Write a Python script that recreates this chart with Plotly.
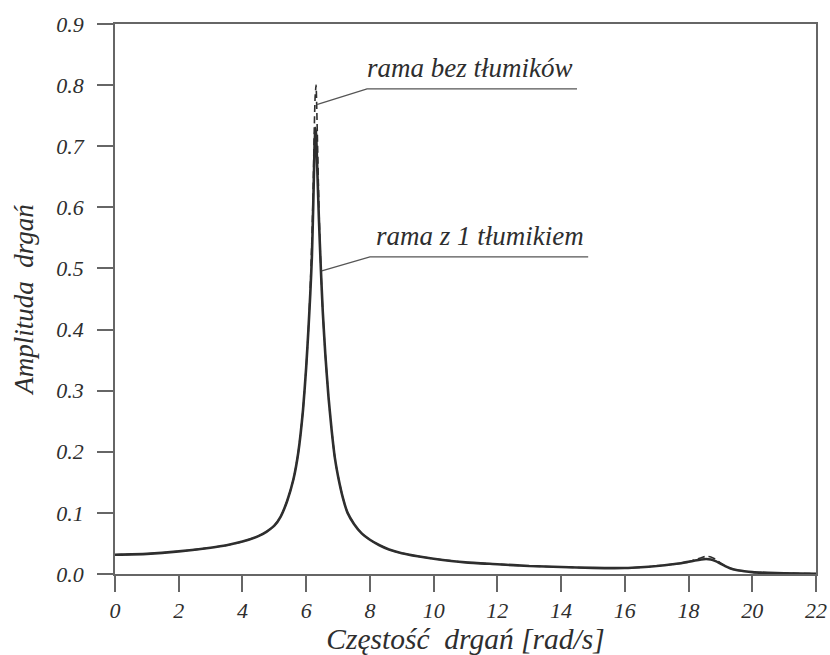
import plotly.graph_objects as go

# frequency [rad/s]
freq = [0, 1, 2, 3, 3.5, 4, 4.5, 4.75, 5.0, 5.2, 5.4, 5.6, 5.75, 5.9, 6.0, 6.07, 6.13,
        6.18, 6.22, 6.25, 6.28, 6.31, 6.35, 6.40, 6.46, 6.52, 6.6, 6.7, 6.8, 6.9, 7.0,
        7.15, 7.3, 7.5, 7.75, 8.0, 8.3, 8.6, 9, 9.5, 10, 11, 12, 13, 14, 15, 16, 16.5,
        17, 17.5, 17.8, 18.0, 18.2, 18.4, 18.55, 18.7, 18.85, 19.0, 19.15, 19.3, 19.5,
        19.75, 20, 20.5, 21, 22]

# amplitude - frame with 1 damper (solid)
amp_damper = [0.0316, 0.033, 0.037, 0.043, 0.047, 0.053, 0.062, 0.069, 0.079, 0.094,
              0.119, 0.155, 0.198, 0.268, 0.338, 0.400, 0.460, 0.520, 0.600, 0.670,
              0.730, 0.720, 0.660, 0.580, 0.500, 0.430, 0.360, 0.290, 0.235, 0.190,
              0.160, 0.125, 0.100, 0.082, 0.066, 0.056, 0.047, 0.040, 0.034, 0.029,
              0.025, 0.019, 0.016, 0.013, 0.0115, 0.0100, 0.0098, 0.0110, 0.0130,
              0.0160, 0.0180, 0.0200, 0.0220, 0.0237, 0.0245, 0.0238, 0.0210, 0.0170,
              0.0130, 0.0095, 0.0065, 0.0045, 0.0030, 0.0018, 0.0012, 0.0005]

# amplitude - frame without dampers (dashed)
amp_nodamper = [0.0316, 0.033, 0.037, 0.043, 0.047, 0.053, 0.062, 0.069, 0.079, 0.094,
                0.119, 0.155, 0.198, 0.268, 0.338, 0.400, 0.470, 0.550, 0.630, 0.720,
                0.780, 0.800, 0.720, 0.600, 0.500, 0.430, 0.360, 0.290, 0.235, 0.190,
                0.160, 0.125, 0.100, 0.082, 0.066, 0.056, 0.047, 0.040, 0.034, 0.029,
                0.025, 0.019, 0.016, 0.013, 0.0115, 0.0100, 0.0098, 0.0110, 0.0130,
                0.0160, 0.0180, 0.0200, 0.0235, 0.0265, 0.0290, 0.0280, 0.0240, 0.0180,
                0.0130, 0.0095, 0.0065, 0.0045, 0.0030, 0.0018, 0.0012, 0.0005]

x_ticks = [0, 2, 4, 6, 8, 10, 12, 14, 16, 18, 20, 22]
y_ticks = [0.0, 0.1, 0.2, 0.3, 0.4, 0.5, 0.6, 0.7, 0.8, 0.9]

label_nodamper = "rama bez tłumików"
label_damper = "rama z 1 tłumikiem"

FONT = "Liberation Serif"
INK = "#2e2e2e"
AXC = "#666666"

fig = go.Figure()
fig.add_trace(go.Scatter(x=freq, y=amp_nodamper, mode="lines",
                         line=dict(color=INK, width=1.6, dash="7px,4px", shape="spline", smoothing=0.5),
                         showlegend=False, hoverinfo="skip"))
fig.add_trace(go.Scatter(x=freq, y=amp_damper, mode="lines",
                         line=dict(color=INK, width=2.6, shape="spline", smoothing=0.5),
                         showlegend=False, hoverinfo="skip"))

# leader lines
fig.add_shape(type="path", path="M 6.33,0.768 L 7.91,0.794 L 14.5,0.794",
              xref="x", yref="y", line=dict(color="#555555", width=1.3))
fig.add_shape(type="path", path="M 6.49,0.496 L 8.0,0.519 L 14.85,0.519",
              xref="x", yref="y", line=dict(color="#555555", width=1.3))

fig.add_annotation(x=11.15, y=0.800, text=label_nodamper, showarrow=False,
                   xanchor="center", yanchor="bottom",
                   font=dict(family=FONT, size=27, color=INK, style="italic"))
fig.add_annotation(x=11.45, y=0.525, text=label_damper, showarrow=False,
                   xanchor="center", yanchor="bottom",
                   font=dict(family=FONT, size=27, color=INK, style="italic"))

axis_common = dict(showgrid=False, zeroline=False, showline=True, linecolor=AXC,
                   linewidth=1.5, mirror=True, ticks="outside", ticklen=16,
                   tickwidth=1.5, tickcolor=AXC, automargin=False,
                   tickfont=dict(family=FONT, size=22, color=INK, style="italic"))

fig.update_xaxes(range=[0, 22], tickvals=x_ticks, ticktext=[str(v) for v in x_ticks],
                 title=dict(text="Częstość  drgań [rad/s]", standoff=2,
                            font=dict(family=FONT, size=29.5, color=INK, style="italic")),
                 **axis_common)
fig.update_yaxes(range=[0, 0.9], tickvals=y_ticks, ticktext=[f"{v:.1f}" for v in y_ticks],
                 ticklabelstandoff=9,
                 title=dict(text="Amplituda  drgań", standoff=15,
                            font=dict(family=FONT, size=27, color=INK, style="italic")),
                 **axis_common)

fig.update_layout(width=830, height=655, margin=dict(l=115, r=14, t=24, b=81),
                  paper_bgcolor="white", plot_bgcolor="white",
                  font=dict(family=FONT))

fig.write_html("out.html")
